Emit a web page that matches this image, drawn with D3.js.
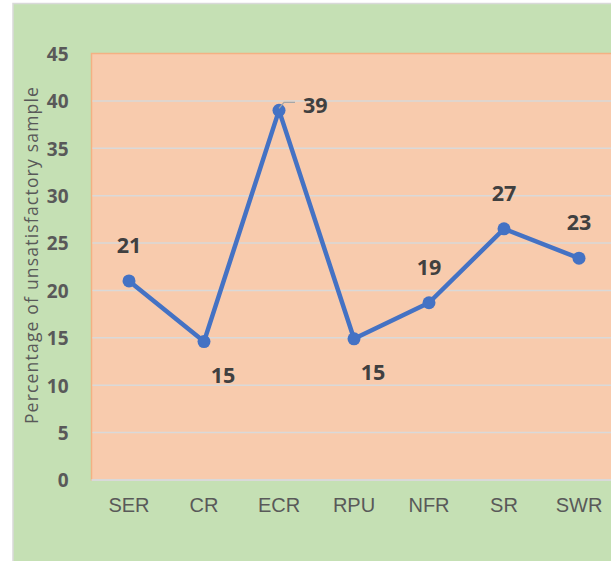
<!DOCTYPE html>
<head>
  <meta charset="utf-8">
  <script src="https://d3js.org/d3.v7.min.js"></script>
  <style>
    html, body { margin: 0; padding: 0; background: #fff; overflow: hidden; }
    .tick text { font-family: 'Open Sans', sans-serif; font-weight: 700; font-size: 19px; fill: #595959; }
    .xlab text { font-family: 'Liberation Sans', Arial, sans-serif; font-weight: 400; font-size: 20px; fill: #595959; }
    .ytitle { font-family: 'Open Sans', sans-serif; font-size: 17.5px; letter-spacing: 1.2px; fill: #595959; }
    .dlabel { font-family: 'Open Sans', sans-serif; font-weight: 700; font-size: 21.5px; fill: #404040; }
  </style>
</head>
<body>
<script>

// data
const categories = ["SER", "CR", "ECR", "RPU", "NFR", "SR", "SWR"];
const values = [21.0, 14.6, 39.0, 14.9, 18.7, 26.5, 23.4];
const valueLabels = ["21", "15", "39", "15", "19", "27", "23"];
const yTicks = [0, 5, 10, 15, 20, 25, 30, 35, 40, 45];

// where each data label sits relative to its point
const labelPos = ["above", "belowRight", "right", "belowRight", "above", "above", "above"];

const W = 611, H = 561;
const margin = { top: 53.5, left: 91.5, bottom: 81, right: -5.5 };

const svg = d3.select("body").append("svg")
    .attr("width", W)
    .attr("height", H);

// chart area background
svg.append("rect")
    .attr("x", 13).attr("y", 3.5)
    .attr("width", W + 10).attr("height", H)
    .attr("fill", "#c5e0b4")
    .attr("stroke", "#d9d9d9")
    .attr("stroke-width", 1.5);

const x = d3.scaleBand()
    .domain(categories)
    .range([margin.left, W - margin.right]);

const y = d3.scaleLinear()
    .domain([0, 45])
    .range([H - margin.bottom, margin.top]);

// plot area
svg.append("rect")
    .attr("x", margin.left).attr("y", margin.top)
    .attr("width", x.range()[1] - margin.left)
    .attr("height", y(0) - margin.top)
    .attr("fill", "#f8cbad")
    .attr("stroke", "#f4b183")
    .attr("stroke-width", 1.5);

// gridlines
svg.append("g")
  .selectAll("line")
  .data(yTicks.slice(1, -1))
  .enter().append("line")
    .attr("x1", margin.left + 1).attr("x2", x.range()[1])
    .attr("y1", d => y(d)).attr("y2", d => y(d))
    .attr("stroke", "#d9d9d9")
    .attr("stroke-width", 1.5);

// x baseline
svg.append("line")
    .attr("x1", margin.left).attr("x2", x.range()[1])
    .attr("y1", y(0)).attr("y2", y(0))
    .attr("stroke", "#d9d9d9")
    .attr("stroke-width", 2);

// y axis
const yAxis = svg.append("g")
    .attr("transform", "translate(" + (margin.left - 23) + ",0)")
    .call(d3.axisLeft(y).tickValues(yTicks).tickSize(0).tickPadding(0));
yAxis.select(".domain").remove();
yAxis.selectAll("text").attr("dy", "0.36em");

// x axis
const xAxis = svg.append("g")
    .attr("class", "xlab")
    .attr("transform", "translate(0," + (y(0) + 32) + ")")
    .call(d3.axisBottom(x).tickSize(0).tickPadding(0));
xAxis.select(".domain").remove();
xAxis.selectAll("text").attr("dy", "0").attr("y", 0);

// y title
svg.append("text")
    .attr("class", "ytitle")
    .attr("transform", "translate(38," + 255 + ") rotate(-90)")
    .attr("text-anchor", "middle")
    .text("Percentage of unsatisfactory sample");

// line
const line = d3.line()
    .x((d, i) => x(categories[i]) + x.bandwidth() / 2)
    .y(d => y(d));

svg.append("path")
    .datum(values)
    .attr("d", line)
    .attr("fill", "none")
    .attr("stroke", "#4472c4")
    .attr("stroke-width", 4.5)
    .attr("stroke-linejoin", "round");

svg.selectAll(".dot")
    .data(values)
    .enter().append("circle")
    .attr("class", "dot")
    .attr("cx", (d, i) => x(categories[i]) + x.bandwidth() / 2)
    .attr("cy", d => y(d))
    .attr("r", 6.5)
    .attr("fill", "#4472c4");

// leader line for the ECR label
const ecrX = x("ECR") + x.bandwidth() / 2;
svg.append("path")
    .attr("d", "M" + ecrX + "," + (y(39) - 2) + "L" + (ecrX + 5) + "," + (y(39) - 8) + "H" + (ecrX + 16))
    .attr("fill", "none")
    .attr("stroke", "#a6a6a6")
    .attr("stroke-width", 1.2);

// data labels
const offsets = {
    above: { dx: 0, dy: -28, anchor: "middle" },
    belowRight: { dx: 19, dy: 41, anchor: "middle" },
    right: { dx: 24, dy: 3, anchor: "start" }
};

svg.selectAll(".dlabel")
    .data(values)
    .enter().append("text")
    .attr("class", "dlabel")
    .attr("x", (d, i) => x(categories[i]) + x.bandwidth() / 2 + offsets[labelPos[i]].dx)
    .attr("y", (d, i) => y(d) + offsets[labelPos[i]].dy)
    .attr("text-anchor", (d, i) => offsets[labelPos[i]].anchor)
    .text((d, i) => valueLabels[i]);

</script>
</body>
